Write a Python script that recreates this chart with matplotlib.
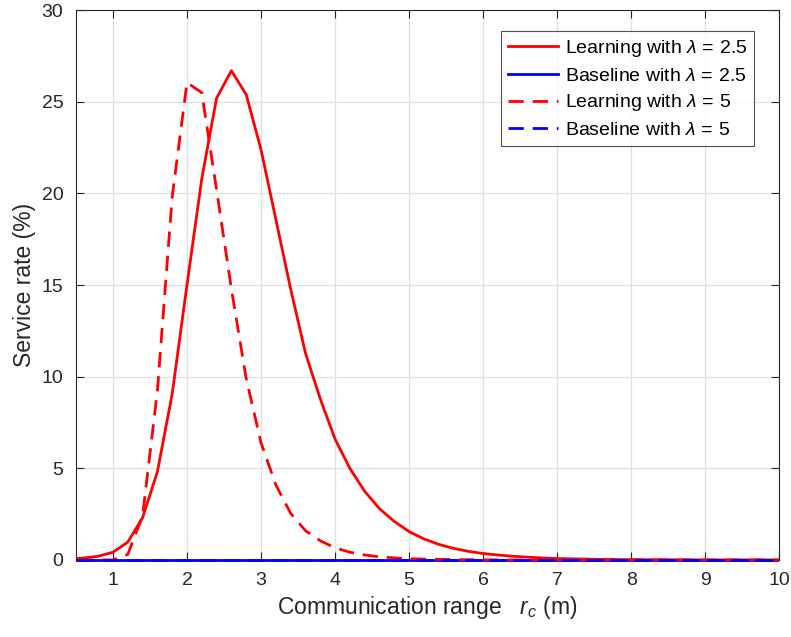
import numpy as np
import matplotlib
matplotlib.use("Agg")
import matplotlib.pyplot as plt
from matplotlib.transforms import Bbox, TransformedBbox

plt.rcParams["font.family"] = ["Liberation Sans", "DejaVu Sans"]
plt.rcParams["mathtext.fontset"] = "custom"
plt.rcParams["mathtext.rm"] = "Liberation Sans"
plt.rcParams["mathtext.it"] = "Liberation Sans:italic"

# communication range samples (m)
r_c = np.round(np.arange(0.2, 10.01, 0.2), 1)

# service rate (%) for the learning scheme, lambda = 2.5
learn_25 = [0.02, 0.05, 0.10, 0.20, 0.42, 0.97, 2.30, 4.80, 9.05, 15.0,
            20.8, 25.2, 26.7, 25.4, 22.4, 18.6, 14.8, 11.3, 8.8, 6.6,
            5.0, 3.75, 2.8, 2.1, 1.55, 1.15, 0.85, 0.63, 0.47, 0.35,
            0.27, 0.20, 0.15, 0.11, 0.08, 0.06, 0.045, 0.03, 0.02, 0.015,
            0.01, 0.01, 0.005, 0.005, 0.0, 0.0, 0.0, 0.0, 0.0, 0.0]

# service rate (%) for the learning scheme, lambda = 5
learn_5 = [0.0, 0.0, 0.0, 0.0, 0.0, 0.3, 2.4, 9.2, 19.8, 26.05,
           25.5, 20.2, 14.8, 9.9, 6.4, 4.1, 2.55, 1.6, 1.05, 0.66,
           0.42, 0.27, 0.17, 0.11, 0.07, 0.045, 0.03, 0.02, 0.01, 0.01,
           0.0, 0.0, 0.0, 0.0, 0.0, 0.0, 0.0, 0.0, 0.0, 0.0,
           0.0, 0.0, 0.0, 0.0, 0.0, 0.0, 0.0, 0.0, 0.0, 0.0]

# baselines never serve anyone
base_25 = [0.0] * len(r_c)
base_5 = [0.0] * len(r_c)

fig = plt.figure(figsize=(7.91, 6.37), dpi=100)
ax = fig.add_axes([0.096, 0.121, 0.889, 0.863])

lw = 2.0
dash = (5.5, 3.2)
lines = []
lines += ax.plot(r_c, learn_25, "-", color="#ff0000", lw=lw,
                 label=r"Learning with $\mathit{\lambda\,=\,2.5}$")
lines += ax.plot(r_c, base_25, "-", color="#0000ff", lw=lw,
                 label=r"Baseline with $\mathit{\lambda\,=\,2.5}$")
lines += ax.plot(r_c, learn_5, "--", color="#ff0000", lw=lw, dashes=dash,
                 label=r"Learning with $\mathit{\lambda\,=\,5}$")
lines += ax.plot(r_c, base_5, "--", color="#0000ff", lw=lw, dashes=dash,
                 label=r"Baseline with $\mathit{\lambda\,=\,5}$")

# let the zero lines spill over the bottom spine instead of being cut in half
clip_box = TransformedBbox(Bbox([[0, -0.02], [1, 1.02]]), ax.transAxes)
for ln in lines:
    ln.set_clip_box(clip_box)
    ln.set_zorder(3)

ax.set_xlim(0.5, 10)
ax.set_ylim(0, 30)
ax.set_xticks(range(1, 11))
ax.set_yticks(range(0, 31, 5))
ax.grid(True, color="#dfdfdf", lw=0.9)
ax.set_axisbelow(True)

for s in ax.spines.values():
    s.set_color("#262626")
    s.set_linewidth(0.8)
ax.tick_params(direction="in", length=6, width=0.8, color="#262626",
               labelsize=14, labelcolor="#262626", top=True, right=True, pad=9)

ax.set_xlabel(r"Communication range   $r_c$ (m)", fontsize=16.5,
              color="#262626", labelpad=3)
ax.set_ylabel("Service rate (%)", fontsize=16.5, color="#262626", labelpad=4)

leg = ax.legend(loc="upper right", bbox_to_anchor=(0.973, 0.972), fontsize=14,
                frameon=True, fancybox=False, edgecolor="#262626",
                handlelength=2.6, borderpad=0.35, labelspacing=0.4,
                handletextpad=0.35, borderaxespad=0.3)
leg.get_frame().set_linewidth(0.8)
leg.set_zorder(5)

fig.savefig("out.png", dpi=100, facecolor="white")
